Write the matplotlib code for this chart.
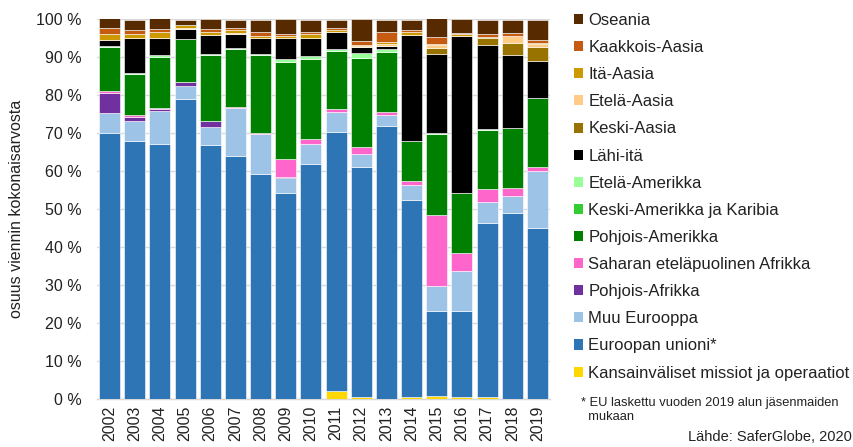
import matplotlib
matplotlib.use("Agg")
import matplotlib.pyplot as plt
from matplotlib.patches import Patch
import numpy as np

plt.rcParams['font.family'] = ['Liberation Sans', 'DejaVu Sans']

years = [str(y) for y in range(2002, 2020)]

kansainvaliset = [0, 0, 0, 0, 0, 0, 0, 0, 0, 2.2, 0.5, 0, 0.5, 0.8, 0.5, 0.45, 0, 0]
eu = [70.1, 67.9, 67.1, 78.9, 66.8, 64.0, 59.1, 54.1, 61.8, 68.1, 60.6, 71.9, 51.9, 22.4, 22.7, 45.9, 49.0, 44.9]
muu_eurooppa = [5.1, 5.2, 8.8, 3.5, 4.7, 12.5, 10.6, 4.1, 5.3, 5.1, 3.5, 2.8, 3.8, 6.5, 10.5, 5.5, 4.5, 15.2]
pohjois_afrikka = [5.4, 1.2, 0.4, 1.0, 1.7, 0, 0, 0.3, 0, 0, 0, 0, 0, 0, 0, 0, 0, 0]
saharan = [0.4, 0.4, 0.3, 0, 0, 0.3, 0.4, 4.6, 1.3, 0.8, 1.75, 0.9, 1.2, 18.7, 4.6, 3.5, 1.9, 1.05]
pohjois_amerikka = [11.7, 10.7, 13.5, 11.4, 17.4, 15.3, 20.3, 25.5, 21.0, 15.5, 23.3, 15.8, 10.6, 21.4, 16.0, 15.5, 15.8, 18.0]
keski_amerikka = [0] * 18
etela_amerikka = [0.3, 0.4, 0.4, 0, 0.3, 0.4, 0.4, 1.0, 0.9, 0.4, 1.3, 0.7, 0, 0.3, 0, 0.3, 0, 0]
lahi_ita = [1.5, 9.1, 4.6, 2.6, 5.0, 3.5, 4.2, 5.4, 4.8, 4.4, 1.6, 0.9, 27.7, 20.6, 41.2, 22.0, 19.3, 9.9]
keski_aasia = [0, 0, 0, 0, 0, 0, 0, 0, 0, 0, 0, 0, 0, 1.7, 0, 1.8, 3.1, 3.5]
etela_aasia = [0, 0, 0, 0.2, 0, 0.4, 0, 0, 0, 0, 0.4, 0.5, 0, 0.7, 0, 0, 2.0, 0.8]
ita_aasia = [1.5, 1.05, 1.6, 0.9, 0.7, 0.6, 0.5, 0.6, 0.9, 0.7, 0.3, 0.4, 0.9, 0.45, 0.5, 0.4, 0, 0.3]
kaakkois_aasia = [1.6, 1.1, 0.6, 0, 0.9, 0.6, 1.05, 0.5, 0.7, 0.4, 1.05, 2.6, 0.4, 1.6, 0.3, 0.6, 0.6, 0.7]
oseania = [2.6, 2.8, 2.9, 1.3, 2.4, 2.2, 3.3, 3.8, 3.1, 2.2, 5.7, 3.2, 2.8, 5.0, 3.7, 3.9, 3.5, 5.4]

series = [
    ("Kansainväliset missiot ja operaatiot", kansainvaliset, "#FFD700"),
    ("Euroopan unioni*", eu, "#2E75B6"),
    ("Muu Eurooppa", muu_eurooppa, "#9DC3E6"),
    ("Pohjois-Afrikka", pohjois_afrikka, "#7030A0"),
    ("Saharan eteläpuolinen Afrikka", saharan, "#FF66CC"),
    ("Pohjois-Amerikka", pohjois_amerikka, "#008000"),
    ("Keski-Amerikka ja Karibia", keski_amerikka, "#33CC33"),
    ("Etelä-Amerikka", etela_amerikka, "#99FF99"),
    ("Lähi-itä", lahi_ita, "#000000"),
    ("Keski-Aasia", keski_aasia, "#997300"),
    ("Etelä-Aasia", etela_aasia, "#FFCC88"),
    ("Itä-Aasia", ita_aasia, "#CC9900"),
    ("Kaakkois-Aasia", kaakkois_aasia, "#C55A11"),
    ("Oseania", oseania, "#572A00"),
]

fig = plt.figure(figsize=(8.54, 4.47), dpi=100)
ax = fig.add_axes([97 / 854, 48 / 447, 453 / 854, 380 / 447])

x = np.arange(len(years))
bottom = np.zeros(len(years))
handles = []
for name, vals, col in series:
    v = np.array(vals, dtype=float)
    ax.bar(x, v, bottom=bottom, width=0.83, color=col, edgecolor='white', linewidth=0.4, zorder=3)
    bottom += v
    handles.append(Patch(facecolor=col, edgecolor='none', label=name))

ax.set_xlim(-0.5, 17.5)
ax.set_ylim(0, 100)
ax.set_yticks(np.arange(0, 101, 10))
ax.set_yticklabels([f"{t} %" for t in range(0, 101, 10)], fontsize=11.5, color='#222222')
ax.set_xticks(x)
ax.set_xticklabels(years, rotation=90, fontsize=11.5, color='#222222')
ax.tick_params(axis='both', length=0)
ax.tick_params(axis='y', pad=11)
ax.tick_params(axis='x', pad=5)
ax.grid(axis='y', color='#D9D9D9', linewidth=1, zorder=0)
for s in ['top', 'right', 'left']:
    ax.spines[s].set_visible(False)
ax.spines['bottom'].set_color('#D9D9D9')
ax.spines['bottom'].set_linewidth(1)
ax.set_ylabel("osuus viennin kokonaisarvosta", fontsize=11.5, color='#222222', labelpad=9)

leg = fig.legend(handles=handles[::-1], loc='upper left',
                 bbox_to_anchor=(574 / 854, 1 - 13 / 447), frameon=False,
                 fontsize=12, handlelength=0.55, handleheight=0.55, handletextpad=0.3,
                 labelspacing=0.727, borderaxespad=0, borderpad=0)
for t in leg.get_texts():
    t.set_color('#222222')

fig.text(581 / 854, 1 - 410 / 447, "* EU laskettu vuoden 2019 alun jäsenmaiden\n  mukaan",
         fontsize=9.3, va='center', ha='left', color='#222222', linespacing=1.2)
fig.text(688 / 854, 1 - 437 / 447, "Lähde: SaferGlobe, 2020", fontsize=10.5,
         va='center', ha='left', color='#222222')

fig.savefig("out.png", dpi=100)
